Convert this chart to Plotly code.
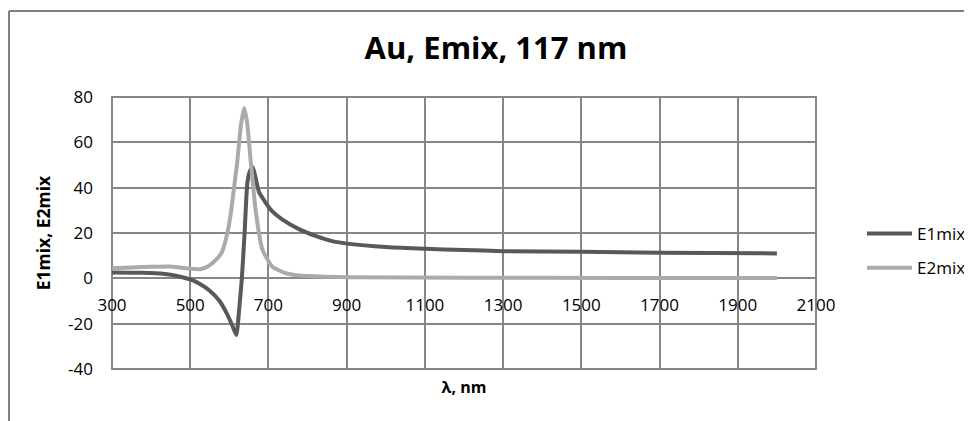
import plotly.graph_objects as go

# ---- data ----
wl_e1 = [300, 350, 400, 430, 460, 480, 500, 525, 550, 575, 595, 608, 618, 625, 632, 639, 646, 653, 660,
         667, 676, 685, 693, 710, 735, 778, 822, 863, 906, 1000, 1100, 1200, 1300, 1500, 1700, 2000]
e1mix = [2.6, 2.5, 2.3, 2.0, 1.3, 0.5, -0.5, -2.5, -5.5, -10.0, -16.0, -21.0, -25.0, -14.0, 0.0, 20.0, 42.0, 47.5, 49.0,
         44.5, 38.0, 35.5, 33.3, 29.5, 26.0, 21.7, 18.6, 16.4, 15.2, 13.8, 13.0, 12.5, 12.0, 11.7, 11.3, 11.0]

wl_e2 = [300, 350, 400, 450, 500, 525, 545, 565, 581, 595, 604, 612, 620, 630, 638, 646, 655,
         668, 684, 709, 740, 778, 850, 906, 1200, 1600, 2000]
e2mix = [4.5, 4.8, 5.1, 5.2, 4.2, 4.0, 5.2, 8.0, 11.5, 20.0, 29.0, 40.0, 51.0, 68.0, 75.0, 68.0, 51.0,
         29.0, 13.0, 5.3, 2.5, 1.2, 0.7, 0.5, 0.3, 0.2, 0.2]

series_names = ["E1mix", "E2mix"]
title_text = "Au, Emix, 117 nm"
x_title = "λ, nm"
y_title = "E1mix, E2mix"
x_ticks = list(range(300, 2101, 200))
y_ticks = list(range(-40, 81, 20))

# ---- figure ----
# the page body has an 8px margin, so the figure is 8px smaller and all
# screen positions below are expressed as screen - 8
OFF = 8
W, H = 972 - OFF, 421 - OFF
L, T = 112 - OFF, 97 - OFF
PR, PB = 816 - OFF, 369 - OFF
R, B = W - PR, H - PB
pw, ph = PR - L, PB - T
FONT = "Open Sans"
GRID = "#878787"

fig = go.Figure()
fig.add_trace(go.Scatter(x=wl_e1, y=e1mix, mode="lines", name=series_names[0],
                         line=dict(color="#595959", width=4, shape="spline", smoothing=0.5),
                         legendgroup="a"))
fig.add_trace(go.Scatter(x=wl_e2, y=e2mix, mode="lines", name=series_names[1],
                         line=dict(color="#aaaaaa", width=4, shape="spline", smoothing=0.5),
                         legendgroup="b"))

def px_x(sx):
    return (sx - OFF - L) / pw

def px_y(sy):
    return (PB - (sy - OFF)) / ph

FRAME = dict(color="#808080", width=2)

fig.update_layout(
    width=W, height=H,
    margin=dict(l=L, r=R, t=T, b=B, autoexpand=False),
    paper_bgcolor="white", plot_bgcolor="white",
    font=dict(family=FONT, color="#000000"),
    title=dict(text=title_text, x=(496 - OFF) / W, xanchor="center",
               y=1 - (48 - OFF) / H, yanchor="middle",
               font=dict(family=FONT, size=31, color="#000000", weight="bold")),
    showlegend=True,
    legend=dict(x=px_x(862), xanchor="left", y=px_y(216), yanchor="top",
                font=dict(family=FONT, size=17, color="#000000"),
                tracegroupgap=9, traceorder="grouped", itemwidth=45,
                bgcolor="rgba(0,0,0,0)"),
    xaxis=dict(range=[300, 2100], tickvals=x_ticks, ticktext=[str(v) for v in x_ticks],
               showgrid=True, gridcolor=GRID, gridwidth=2, zeroline=False,
               showline=False, ticks="", anchor="free", position=40 / 120,
               ticklabelstandoff=15, automargin=False,
               tickfont=dict(family=FONT, size=17, color="#000000"),
               title=dict(text=x_title, standoff=66,
                          font=dict(family=FONT, size=16, color="#000000", weight="bold"))),
    yaxis=dict(range=[-40, 80], tickvals=y_ticks, ticktext=[str(v) for v in y_ticks],
               showgrid=True, gridcolor=GRID, gridwidth=2, zeroline=False,
               showline=False, ticks="", ticklabelstandoff=18, automargin=False,
               tickfont=dict(family=FONT, size=17, color="#000000"),
               title=dict(text=y_title, standoff=12,
                          font=dict(family=FONT, size=17.5, color="#000000", weight="bold"))),
    shapes=[
        dict(type="rect", xref="paper", yref="paper", x0=0, x1=1, y0=0, y1=1,
             line=dict(color=GRID, width=2), layer="below"),
        # outer chart frame (top and left edges visible in the window)
        dict(type="line", xref="paper", yref="paper", x0=px_x(9), x1=px_x(971),
             y0=px_y(11), y1=px_y(11), line=FRAME, layer="above"),
        dict(type="line", xref="paper", yref="paper", x0=px_x(9), x1=px_x(9),
             y0=px_y(11), y1=px_y(421), line=FRAME, layer="above"),
    ],
)

fig.write_html("out.html")
